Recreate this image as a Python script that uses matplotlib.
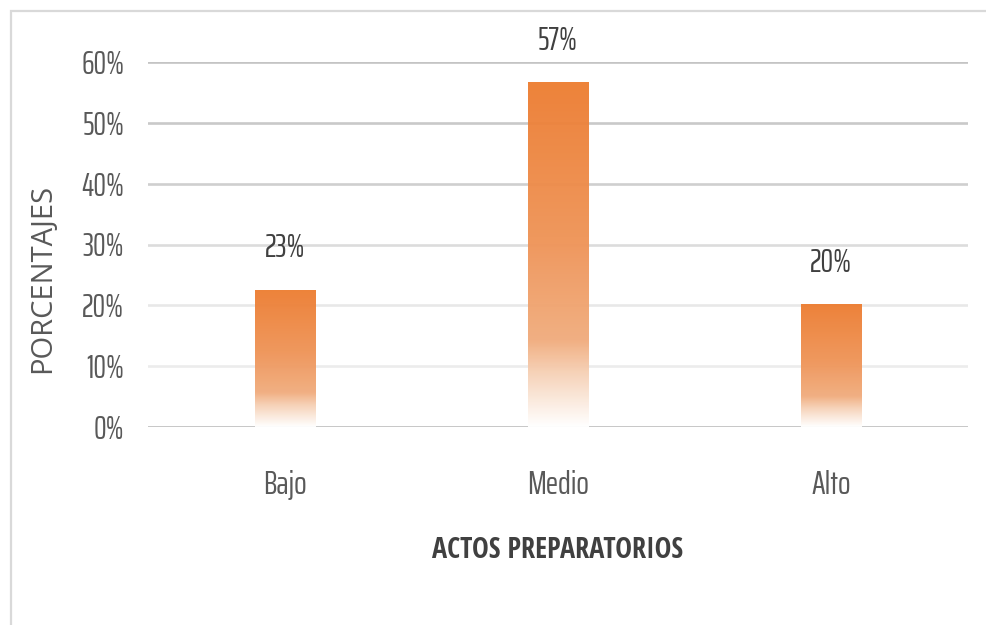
import numpy as np
import matplotlib
matplotlib.use("Agg")
import matplotlib.pyplot as plt
from matplotlib.patches import Rectangle
from matplotlib.colors import LinearSegmentedColormap
from matplotlib.textpath import TextPath
from matplotlib.font_manager import FontProperties

# ---- data ----
categories = ["Bajo", "Medio", "Alto"]
values = [22.6, 56.7, 20.2]          # percent
yticks = [0, 10, 20, 30, 40, 50, 60]
ytick_labels = [f"{t}%" for t in yticks]
xlabel = "ACTOS PREPARATORIOS"
ylabel = "PORCENTAJES"

NARROW = ["Saira ExtraCondensed", "DejaVu Sans"]
BOLDN = ["Open Sans Condensed", "DejaVu Sans"]
REGULAR = ["Open Sans", "DejaVu Sans"]


def fit_size(text, family, weight, target_px, base=20):
    fp = FontProperties(family=family, weight=weight, size=base)
    w = TextPath((0, 0), text, prop=fp).get_extents().width * 100 / 72
    return base * target_px / w if w > 0 else base


fig = plt.figure(figsize=(9.87, 6.25), dpi=100)
fig.patch.set_facecolor("white")

ax = fig.add_axes([148/987, (625-427)/625, 820/987, 365/625])
ax.set_xlim(-0.5, 2.5)
ax.set_ylim(0, 60)
for s in ax.spines.values():
    s.set_visible(False)
ax.tick_params(length=0)

grid_colors = ["#bdbdbd", "#ececec", "#e8e8e8", "#dcdcdc", "#cfcfcf", "#c9c9c9", "#c4c4c4"]
for t, c in zip(yticks, grid_colors):
    ax.axhline(t, color=c, lw=1.9, zorder=1)

ax.set_yticks(yticks)
ax.set_yticklabels(ytick_labels, fontsize=23, color="#595959", family=NARROW)
ax.tick_params(axis="y", pad=17)
x = np.arange(len(categories))
ax.set_xticks(x)
ax.set_xticklabels(categories, fontsize=24, color="#595959", family=NARROW)
ax.tick_params(axis="x", pad=31)

cmap = LinearSegmentedColormap.from_list(
    "grad",
    [(0.0, "#ED7D31"), (0.45, "#EF9356"), (0.75, "#F1AC7D"),
     (0.84, "#F6CFB3"), (0.93, "#FBEBDF"), (1.0, "#FFFFFF")])
grad = np.linspace(0, 1, 256).reshape(-1, 1)

bw = 0.22
bars = ax.bar(x, values, width=bw, color="none", edgecolor="none", zorder=2)
for b, v in zip(bars, values):
    x0 = b.get_x()
    im = ax.imshow(grad, cmap=cmap, aspect="auto", origin="upper",
                   extent=[x0, x0 + bw, 0, v], zorder=2, alpha=0.96,
                   interpolation="bilinear")
    im.set_clip_path(b)
    ax.text(b.get_x() + bw/2, v + 6.8, f"{round(v)}%", ha="center", va="center",
            fontsize=23, color="#404040", family=NARROW, clip_on=False)

ax.set_xlim(-0.5, 2.5)
ax.set_ylim(0, 60)

fs_x = fit_size(xlabel, BOLDN[0], "bold", 251)
fig.text(558/987, 1 - 551/625, xlabel, ha="center", va="center",
         fontsize=fs_x, fontweight="bold", color="#404040", family=BOLDN)
fs_y = fit_size(ylabel, REGULAR[0], "normal", 185)
fig.text(43/987, 1 - 278/625, ylabel, ha="center", va="center", rotation=90,
         fontsize=fs_y, color="#595959", family=REGULAR)

fig.add_artist(Rectangle((11/987, -0.05), 1.2, (625-11)/625 + 0.05,
                         transform=fig.transFigure, fill=False,
                         edgecolor="#d9d9d9", lw=1.6))

fig.savefig("out.png", dpi=100, facecolor="white")
